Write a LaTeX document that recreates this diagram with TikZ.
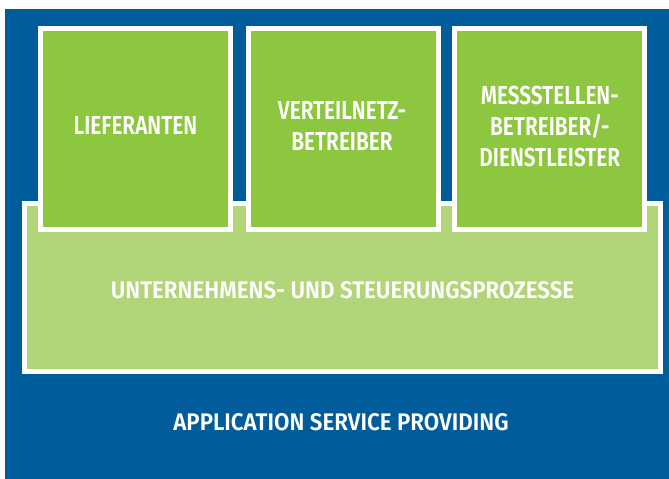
\documentclass[tikz,border=0pt]{standalone}
\usepackage{fontspec}
\newfontfamily\condfont[FakeStretch=0.8, BoldFont={Fira Sans SemiBold}]{Fira Sans}
\newfontfamily\widefont[FakeStretch=0.93, BoldFont={Fira Sans SemiBold}]{Fira Sans}
\definecolor{aspblue}{RGB}{0,92,154}
\definecolor{boxgreen}{RGB}{141,198,63}
\definecolor{lightgreen}{RGB}{178,213,122}
\tikzset{
  topbox/.style={rectangle, draw=white, line width=5pt, fill=boxgreen, inner sep=0pt, outer sep=0pt,
    minimum width=190pt, minimum height=200.7pt, align=center, text=white,
    font=\condfont\bfseries\fontsize{26}{31}\selectfont},
  basebox/.style={rectangle, draw=white, line width=5pt, fill=lightgreen, inner sep=0pt, outer sep=0pt,
    minimum width=635.7pt, minimum height=168.3pt, align=center, text=white,
    font=\widefont\bfseries\fontsize{24}{29}\selectfont},
  asplabel/.style={inner sep=0pt, text=white, font=\widefont\bfseries\fontsize{24}{29}\selectfont}
}
\begin{document}
\begin{tikzpicture}[x=1pt,y=-1pt]
\useasboundingbox (0,0) rectangle (669,479);
\fill[aspblue] (5,9) rectangle (669,479);
\node[basebox] (base) at (342.35,287.35) {};
\node[text=white, inner sep=0pt, font=\widefont\bfseries\fontsize{24}{29}\selectfont] (basetext) at (342.5,290) {UNTERNEHMENS- UND STEUERUNGSPROZESSE};
\node[topbox] (lief) at (135.5,128.85) {};
\node[topbox] (vnb) at (343.2,128.85) {};
\node[topbox] (msb) at (549.8,128.85) {};
\node[text=white, align=center, inner sep=0pt, font=\condfont\bfseries\fontsize{26}{31}\selectfont] (lieftext) at (135.5,126) {LIEFERANTEN};
\node[text=white, align=center, inner sep=0pt, font=\condfont\bfseries\fontsize{26}{31}\selectfont] (vnbtext) at (342,126.5) {VERTEILNETZ-\\BETREIBER};
\node[text=white, align=center, inner sep=0pt, font=\condfont\bfseries\fontsize{26}{31}\selectfont] (msbtext) at (549.8,127) {MESSSTELLEN-\\BETREIBER/-\\DIENSTLEISTER};
\node[asplabel] (asp) at (341,421.7) {APPLICATION SERVICE PROVIDING};
\end{tikzpicture}
\end{document}
